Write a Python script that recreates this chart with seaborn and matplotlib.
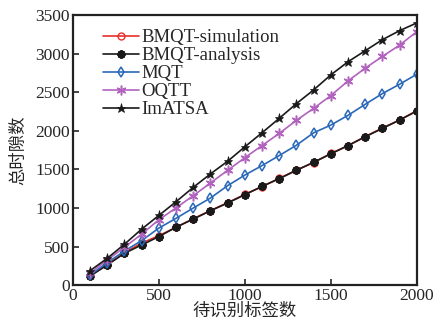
import numpy as np
import pandas as pd
import seaborn as sns
import matplotlib.pyplot as plt

# tag counts on the x axis
tags = list(range(100, 2001, 100))

bmqt_sim = [120, 265, 420, 545, 640, 748, 860, 965, 1068, 1175,
            1275, 1382, 1490, 1588, 1705, 1805, 1925, 2035, 2140, 2258]
bmqt_ana = [117, 260, 412, 520, 628, 750, 855, 963, 1063, 1171,
            1279, 1379, 1487, 1591, 1700, 1808, 1921, 2030, 2138, 2255]
mqt = [130, 290, 442, 576, 738, 865, 998, 1128, 1288, 1425,
       1548, 1678, 1812, 1973, 2073, 2199, 2342, 2481, 2602, 2732]
oqtt = [152, 325, 490, 660, 846, 1000, 1158, 1323, 1487, 1650,
        1808, 1965, 2134, 2290, 2455, 2645, 2810, 2962, 3109, 3283]
imatsa = [186, 347, 529, 725, 902, 1080, 1266, 1440, 1604, 1791,
          1973, 2160, 2351, 2528, 2723, 2893, 3036, 3179, 3296, 3396]

sns.set_style("ticks")
plt.rcParams['font.family'] = ['Liberation Serif', 'Noto Sans CJK SC']
plt.rcParams['axes.unicode_minus'] = False

fig = plt.figure(figsize=(4.36, 3.24), dpi=100)
ax = fig.add_axes([0.167, 0.12, 0.789, 0.834])

series = [
    ("BMQT-simulation", bmqt_sim, "#e8302c", dict(marker="o", mfc="none", mec="#e8302c", ms=5, mew=1.0)),
    ("BMQT-analysis", bmqt_ana, "#1a1a1a", dict(marker=(8, 2, 0), mec="#1a1a1a", ms=6, mew=1.6)),
    ("MQT", mqt, "#2a68b8", dict(marker="d", mfc="none", mec="#2a68b8", ms=5.5, mew=1.1)),
    ("OQTT", oqtt, "#b163bd", dict(marker=(6, 2, 0), mec="#b163bd", ms=7, mew=1.1)),
    ("ImATSA", imatsa, "#1a1a1a", dict(marker="*", mfc="#1a1a1a", mec="#1a1a1a", ms=6.5, mew=0.5)),
]
for name, vals, col, mk in series:
    df = pd.DataFrame({"tags": tags, "slots": vals})
    sns.lineplot(data=df, x="tags", y="slots", ax=ax, color=col, lw=1.2, label=name, **mk)

ax.set_xlim(0, 2000)
ax.set_ylim(0, 3500)
ax.set_xticks([0, 500, 1000, 1500, 2000])
ax.set_yticks(np.arange(0, 3501, 500))
ax.tick_params(direction="in", length=4, width=1.2, labelsize=12.5, pad=2)
for s in ax.spines.values():
    s.set_linewidth(1.6)
    s.set_color("#222222")
    s.set_visible(True)

ax.set_xlabel("待识别标签数", fontsize=12.5, labelpad=0)
ax.set_ylabel("总时隙数", fontsize=12.5, labelpad=6)

ax.legend(loc="upper left", frameon=False, fontsize=13.5, handlelength=1.9,
          handletextpad=0.12, labelspacing=0.05, borderaxespad=0.5,
          bbox_to_anchor=(0.04, 1.01))

fig.savefig("out.png", dpi=100)
